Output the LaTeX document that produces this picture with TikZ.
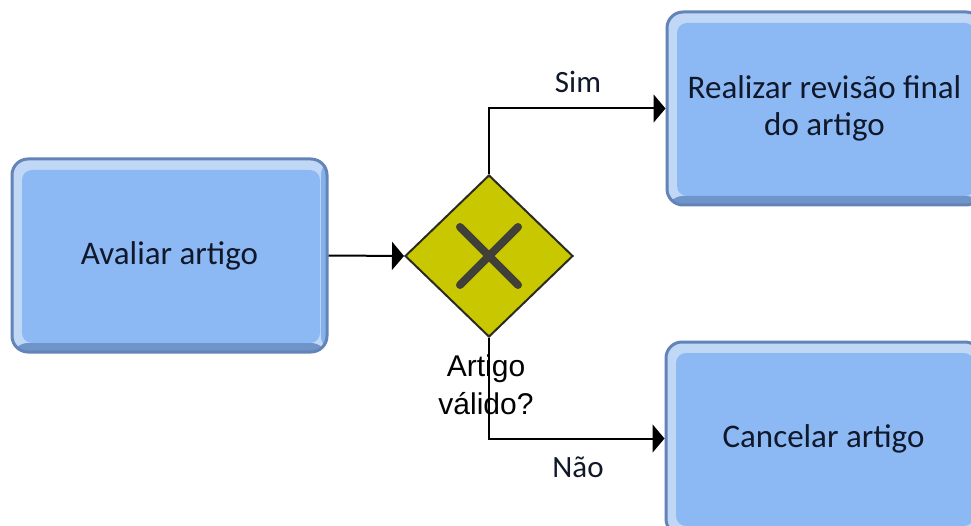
\documentclass[tikz,border=0pt]{standalone}
\usepackage{fontspec}
\setmainfont{Carlito}
\newfontfamily\arialf{Liberation Sans}
\usetikzlibrary{shapes.geometric,arrows.meta}
\definecolor{boxfill}{HTML}{8CB8F4}
\definecolor{boxrim}{HTML}{C0D8F6}
\definecolor{boxedge}{HTML}{6384B8}
\definecolor{boxtext}{HTML}{10182A}
\definecolor{gwfill}{HTML}{C9C800}
\definecolor{gwedge}{HTML}{2B2B22}
\tikzset{
  taskbox/.style={rectangle, rounded corners=16pt, draw=boxedge, line width=3pt,
    fill=boxrim, minimum width=315pt, minimum height=193pt, align=center,
    text=boxtext, font=\fontsize{33}{37}\selectfont,
    path picture={
      \fill[boxfill, rounded corners=10pt]
        ([shift={(10pt,9pt)}]path picture bounding box.south west) rectangle
        ([shift={(-7pt,-11pt)}]path picture bounding box.north east);
      \fill[boxedge!70!boxfill]
        ([shift={(0pt,0pt)}]path picture bounding box.south west) rectangle
        ([shift={(0pt,9pt)}]path picture bounding box.south east);
      \fill[boxfill!85!boxedge]
        ([shift={(0pt,0pt)}]path picture bounding box.south east) rectangle
        ([shift={(-6pt,0pt)}]path picture bounding box.north east);
    }},
  gateway/.style={diamond, draw=gwedge, line width=2pt, fill=gwfill,
    minimum width=168pt, minimum height=162pt, inner sep=0pt},
  xmark/.style={draw=gwedge!90, line width=8pt, line cap=round},
  flow/.style={draw=black, line width=2pt, -{Triangle[length=12pt,width=28pt]}},
  lbl/.style={text=boxtext, font=\fontsize{31}{36}\selectfont},
  gwlbl/.style={text=black, align=center, font=\arialf\fontsize{30}{38}\selectfont}
}
\begin{document}
\begin{tikzpicture}[x=1pt, y=-1pt]
\useasboundingbox (0,0) rectangle (971,526);
\clip (0,0) rectangle (971,526);
\fill[white] (0,0) rectangle (971,526);
\node[taskbox] (a) at (169.5,255.5) {Avaliar artigo};
\node[taskbox] (r) at (824.5,108.5) {Realizar revisão final\\do artigo};
\node[taskbox] (c) at (823.5,438.5) {Cancelar artigo};
\node[gateway] (gw) at (489,256) {};
\draw[xmark] ([shift={(-29pt,-29pt)}]gw.center) -- ([shift={(29pt,29pt)}]gw.center);
\draw[xmark] ([shift={(-29pt,29pt)}]gw.center) -- ([shift={(29pt,-29pt)}]gw.center);
\node[gwlbl] (q) at (486,385) {Artigo\\válido?};
\node[lbl] (sim) at (578,82) {Sim};
\node[lbl] (nao) at (578,467) {Não};
\draw[flow] (a.east) -- (gw.west);
\draw[flow] (gw.north) |- (r.west);
\draw[flow] (gw.south) |- (c.west);
\end{tikzpicture}
\end{document}
